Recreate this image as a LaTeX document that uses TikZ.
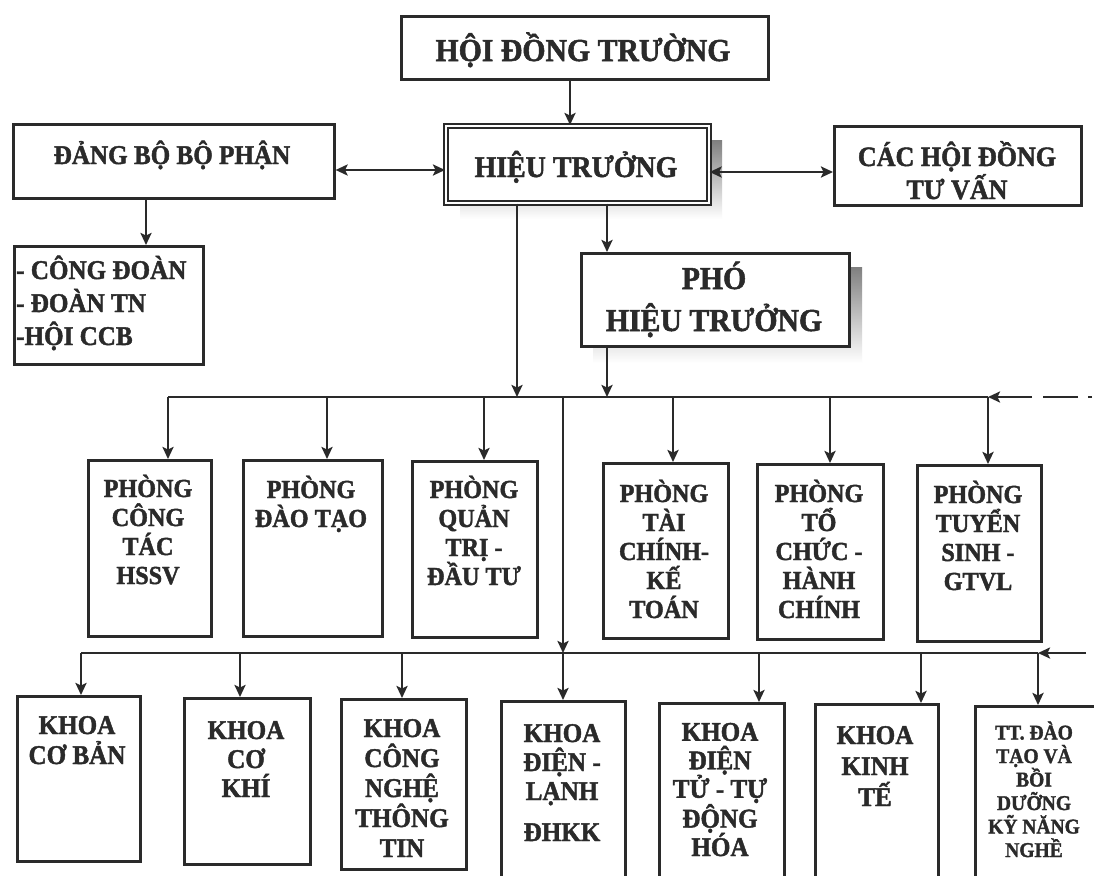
\documentclass[tikz,border=0pt]{standalone}
\usepackage{fontspec}
\setmainfont{Liberation Serif}[BoldFeatures={FakeBold=1.6,FakeStretch=0.93}]
\usetikzlibrary{arrows.meta}
\definecolor{ink}{HTML}{2A2A2A}
\definecolor{shade}{HTML}{D2D2D2}
\begin{document}
\begin{tikzpicture}[x=1pt,y=-1pt,
  box/.style={draw=ink, line width=2.6pt, fill=white, inner sep=0pt, anchor=north west},
  conn/.style={draw=ink, line width=2.4pt},
  tip/.tip={Stealth[length=12pt,width=11pt,inset=2.5pt]},
  arr/.style={conn, -tip},
  darr/.style={conn, tip-tip},
  big/.style={font=\bfseries\fontsize{30}{42}\selectfont, text=ink, align=center, inner sep=0pt, anchor=base},
  mid/.style={font=\bfseries\fontsize{28}{33}\selectfont, text=ink, align=center, inner sep=0pt, anchor=base},
  room/.style={font=\bfseries\fontsize{26}{29}\selectfont, text=ink, align=center, inner sep=0pt, anchor=base},
  fac/.style={font=\bfseries\fontsize{27}{30}\selectfont, text=ink, align=center, inner sep=0pt, anchor=base},
  small/.style={font=\bfseries\fontsize{21}{23.5}\selectfont, text=ink, align=center, inner sep=0pt, anchor=base}
]
\useasboundingbox (0,0) rectangle (1094,875);
\fill[white] (0,0) rectangle (1094,875);

% shadows
\fill[shade] (460,140) rectangle (722,219);
\fill[shade] (593,267) rectangle (862,363);

% top level boxes
\node[box, minimum width=367pt, minimum height=63pt] (hdt) at (400,15) {};
\node[big, font=\bfseries\fontsize{32}{42}\selectfont] (hdtt) at (583,61) {HỘI ĐỒNG TRƯỜNG};

\node[box, draw=ink, double=white, double distance=2.5pt, line width=1.6pt, minimum width=263pt, minimum height=77pt] (ht) at (445,125) {};
\node[big] (htt) at (576,177) {HIỆU TRƯỞNG};

\node[box, minimum width=321pt, minimum height=74pt] (db) at (12,123) {};
\node[big, font=\bfseries\fontsize{27}{33}\selectfont] (dbt) at (172,164) {ĐẢNG BỘ BỘ PHẬN};

\node[box, minimum width=247pt, minimum height=79pt] (hdtv) at (833,125) {};
\node[mid] (hdtvt) at (957,199) {CÁC HỘI ĐỒNG\\TƯ VẤN};

\node[box, minimum width=189pt, minimum height=118pt] (cd) at (13,245) {};
\node[font=\bfseries\fontsize{27}{33}\selectfont, text=ink, align=left, inner sep=0pt, anchor=base west] (cdt) at (16,345) {- CÔNG ĐOÀN\\- ĐOÀN TN\\-HỘI CCB};

\node[box, minimum width=268pt, minimum height=93pt] (pho) at (580,252) {};
\node[big, font=\bfseries\fontsize{32}{42}\selectfont] (phot) at (714,331) {PHÓ\\HIỆU TRƯỞNG};

% rooms
\node[box, minimum width=123pt, minimum height=176pt] (p1) at (87,459) {};
\node[box, minimum width=139pt, minimum height=176pt] (p2) at (242,459) {};
\node[box, minimum width=125pt, minimum height=176pt] (p3) at (411,460) {};
\node[box, minimum width=125pt, minimum height=175pt] (p4) at (602,462) {};
\node[box, minimum width=126pt, minimum height=175pt] (p5) at (756,463) {};
\node[box, minimum width=124pt, minimum height=176pt] (p6) at (916,464) {};
\node[room] (p1t) at (148,584) {PHÒNG\\CÔNG\\TÁC\\HSSV};
\node[room] (p2t) at (311,527) {PHÒNG\\ĐÀO TẠO};
\node[room] (p3t) at (474,585) {PHÒNG\\QUẢN\\TRỊ -\\ĐẦU TƯ};
\node[room] (p4t) at (664,618) {PHÒNG\\TÀI\\CHÍNH-\\KẾ\\TOÁN};
\node[room] (p5t) at (819,618) {PHÒNG\\TỔ\\CHỨC -\\HÀNH\\CHÍNH};
\node[room] (p6t) at (978,590) {PHÒNG\\TUYỂN\\SINH -\\GTVL};

% faculties
\node[box, minimum width=123pt, minimum height=165pt] (k1) at (16,695) {};
\node[box, minimum width=126pt, minimum height=166pt] (k2) at (183,697) {};
\node[box, minimum width=125pt, minimum height=170pt] (k3) at (340,698) {};
\node[box, minimum width=124pt, minimum height=185pt] (k4) at (500,700) {};
\node[box, minimum width=125pt, minimum height=185pt] (k5) at (658,702) {};
\node[box, minimum width=123pt, minimum height=185pt] (k6) at (814,703) {};
\node[box, minimum width=140pt, minimum height=185pt] (k7) at (974,705) {};
\node[fac] (k1t) at (77,764) {KHOA\\CƠ BẢN};
\node[fac, font=\bfseries\fontsize{27}{29}\selectfont] (k2t) at (246,797) {KHOA\\CƠ\\KHÍ};
\node[fac] (k3t) at (402,857) {KHOA\\CÔNG\\NGHỆ\\THÔNG\\TIN};
\node[fac, font=\bfseries\fontsize{27}{29}\selectfont] (k4t) at (562,841) {KHOA\\ĐIỆN -\\LẠNH\\[12pt]ĐHKK};
\node[fac, font=\bfseries\fontsize{27}{28.5}\selectfont] (k5t) at (720,856) {KHOA\\ĐIỆN\\TỬ - TỰ\\ĐỘNG\\HÓA};
\node[fac, font=\bfseries\fontsize{27}{31}\selectfont] (k6t) at (875,806) {KHOA\\KINH\\TẾ};
\node[small] (k7t) at (1034,857) {TT. ĐÀO\\TẠO VÀ\\BỒI\\DƯỠNG\\KỸ NĂNG\\NGHỀ};

% helper coordinates
\coordinate (c570) at (570,0);
\coordinate (c146) at (146,0);
\coordinate (y170) at (0,170);
\coordinate (y172) at (0,172);
\coordinate (h1) at (517,397);
\coordinate (h2) at (607,397);
\coordinate (b1L) at (168,397);
\coordinate (b1R) at (988,397);
\coordinate (d2) at (327,397);
\coordinate (d3) at (484,397);
\coordinate (d4) at (673,397);
\coordinate (d5) at (830,397);
\coordinate (in1) at (1092,397);
\coordinate (t1) at (563,397);
\coordinate (t2) at (563,653);
\coordinate (b2L) at (81,653);
\coordinate (b2R) at (1038,653);
\coordinate (e2) at (240,653);
\coordinate (e3) at (402,653);
\coordinate (e5) at (759,653);
\coordinate (e6) at (921,653);
\coordinate (in2) at (1086,653);

% top connectors
\draw[arr] (hdt.south -| c570) -- (ht.north -| c570);
\draw[darr] (db.east |- y170) -- (ht.west |- y170);
\draw[darr] (ht.east |- y172) -- (hdtv.west |- y172);
\draw[arr] (db.south -| c146) -- (cd.north -| c146);
\draw[arr] (ht.south -| h1) -- (h1);
\draw[arr] (ht.south -| h2) -- (pho.north -| h2);
\draw[arr] (pho.south -| h2) -- (h2);

% bus 1
\draw[conn] (b1L) -- (b1R);
\draw[arr] (b1L) -- (b1L |- p1.north);
\draw[arr] (d2) -- (d2 |- p2.north);
\draw[arr] (d3) -- (d3 |- p3.north);
\draw[arr] (d4) -- (d4 |- p4.north);
\draw[arr] (d5) -- (d5 |- p5.north);
\draw[arr] (b1R) -- (b1R |- p6.north);
\draw[arr, dash pattern=on 4pt off 10pt on 35pt off 11pt on 60pt] (in1) -- (b1R);

% trunk
\draw[arr] (t1) -- (t2);

% bus 2
\draw[conn] (b2L) -- (b2R);
\draw[arr] (b2L) -- (b2L |- k1.north);
\draw[arr] (e2) -- (e2 |- k2.north);
\draw[arr] (e3) -- (e3 |- k3.north);
\draw[arr] (t2) -- (t2 |- k4.north);
\draw[arr] (e5) -- (e5 |- k5.north);
\draw[arr] (e6) -- (e6 |- k6.north);
\draw[arr] (b2R) -- (b2R |- k7.north);
\draw[arr] (in2) -- (b2R);
\end{tikzpicture}
\end{document}
